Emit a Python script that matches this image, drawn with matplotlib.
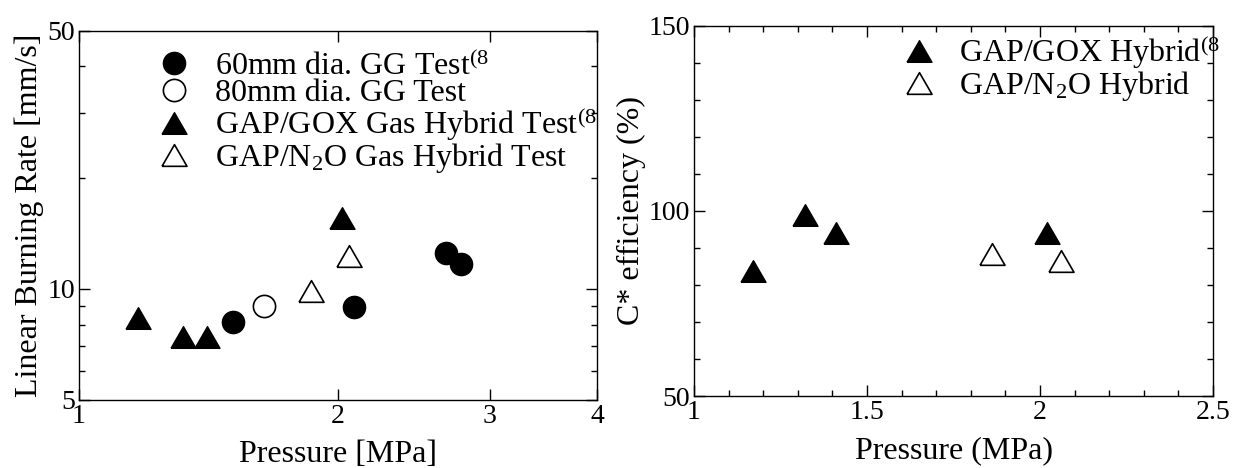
import matplotlib
matplotlib.use("Agg")
import matplotlib.pyplot as plt
from matplotlib.ticker import FixedLocator, FixedFormatter, NullFormatter

plt.rcParams["font.family"] = ["Liberation Serif", "DejaVu Serif"]
plt.rcParams["mathtext.fontset"] = "custom"
plt.rcParams["mathtext.rm"] = "Liberation Serif"
plt.rcParams["mathtext.it"] = "Liberation Serif:italic"
plt.rcParams["mathtext.bf"] = "Liberation Serif:bold"

# left panel: burning rate vs pressure
gg60_p = [1.51, 2.09, 2.67, 2.78]
gg60_r = [8.13, 8.91, 12.53, 11.70]
gg80_p = [1.64]
gg80_r = [8.97]
gox_p = [1.17, 1.32, 1.41, 2.02]
gox_r = [8.32, 7.39, 7.42, 15.6]
n2o_p = [1.86, 2.06]
n2o_r = [9.88, 12.27]

# right panel: C* efficiency vs pressure
gox_eff_p = [1.17, 1.32, 1.41, 2.02]
gox_eff = [83.8, 98.9, 93.9, 93.9]
n2o_eff_p = [1.86, 2.06]
n2o_eff = [88.2, 86.4]

x_ticks_left = [1, 2, 3, 4]
y_major_left = [5, 10, 50]
y_minor_left = [6, 7, 8, 9, 20, 30, 40]

# equilateral triangle marker
tri = [(-1, -0.866), (1, -0.866), (0, 0.866), (-1, -0.866)]

TICK = 20
LAB = 23
LEG = 23

fig = plt.figure(figsize=(12.34, 4.68), dpi=100)
ax1 = fig.add_axes([0.0640, 0.1453, 0.4198, 0.7891])
ax2 = fig.add_axes([0.5624, 0.1538, 0.4206, 0.7917])

# ---- left ----
h1, = ax1.plot(gg60_p, gg60_r, ls="none", marker="o", ms=16, mfc="black", mec="black", mew=1)
h2, = ax1.plot(gg80_p, gg80_r, ls="none", marker="o", ms=16, mfc="white", mec="black", mew=1.2)
h3, = ax1.plot(gox_p, gox_r, ls="none", marker=tri, ms=18, mfc="black", mec="black", mew=1)
h4, = ax1.plot(n2o_p, n2o_r, ls="none", marker=tri, ms=18, mfc="white", mec="black", mew=1.2)
ax1.set_xscale("log")
ax1.set_yscale("log")
ax1.set_xlim(1, 4)
ax1.set_ylim(5, 50)
ax1.xaxis.set_major_locator(FixedLocator(x_ticks_left))
ax1.xaxis.set_major_formatter(FixedFormatter([str(v) for v in x_ticks_left]))
ax1.xaxis.set_minor_locator(FixedLocator([]))
ax1.xaxis.set_minor_formatter(NullFormatter())
ax1.yaxis.set_major_locator(FixedLocator(y_major_left))
ax1.yaxis.set_major_formatter(FixedFormatter([str(v) for v in y_major_left]))
ax1.yaxis.set_minor_locator(FixedLocator(y_minor_left))
ax1.yaxis.set_minor_formatter(NullFormatter())
ax1.set_xlabel("Pressure [MPa]", fontsize=LAB, labelpad=8)
ax1.set_ylabel("Linear Burning Rate [mm/s]", fontsize=LAB, labelpad=2)
ax1.legend([h1, h2, h3, h4],
           ["60mm dia. GG Test$^{(8}$", "80mm dia. GG Test",
            "GAP/GOX Gas Hybrid Test$^{(8}$", "GAP/N$_2$O Gas Hybrid Test"],
           loc="upper left", bbox_to_anchor=(0.152, 0.945), frameon=False,
           fontsize=LEG, borderpad=0, borderaxespad=0, handlelength=1.0,
           handletextpad=0.8, labelspacing=-0.08)

# ---- right ----
g1, = ax2.plot(gox_eff_p, gox_eff, ls="none", marker=tri, ms=18, mfc="black", mec="black", mew=1)
g2, = ax2.plot(n2o_eff_p, n2o_eff, ls="none", marker=tri, ms=18, mfc="white", mec="black", mew=1.2)
ax2.set_xlim(1, 2.5)
ax2.set_ylim(50, 150)
ax2.set_xticks([1, 1.5, 2, 2.5])
ax2.set_xticklabels(["1", "1.5", "2", "2.5"])
ax2.set_xticks([1.1, 1.2, 1.3, 1.4, 1.6, 1.7, 1.8, 1.9, 2.1, 2.2, 2.3, 2.4], minor=True)
ax2.set_yticks([50, 100, 150])
ax2.set_yticks([60, 70, 80, 90, 110, 120, 130, 140], minor=True)
ax2.set_xlabel("Pressure (MPa)", fontsize=LAB, labelpad=8)
ax2.set_ylabel("C* efficiency (%)", fontsize=LAB, labelpad=2)
ax2.legend([g1, g2], ["GAP/GOX Hybrid$^{(8}$", "GAP/N$_2$O Hybrid"],
           loc="upper left", bbox_to_anchor=(0.402, 0.978), frameon=False,
           fontsize=LEG, borderpad=0, borderaxespad=0, handlelength=1.0,
           handletextpad=0.75, labelspacing=-0.07)

for ax in (ax1, ax2):
    for s in ax.spines.values():
        s.set_linewidth(1.0)
    ax.tick_params(which="both", direction="in", top=True, right=True,
                   labelsize=TICK, pad=3, width=1.0)
    ax.tick_params(which="major", length=8)
    ax.tick_params(which="minor", length=4.5)

fig.savefig("out.png", dpi=100)
